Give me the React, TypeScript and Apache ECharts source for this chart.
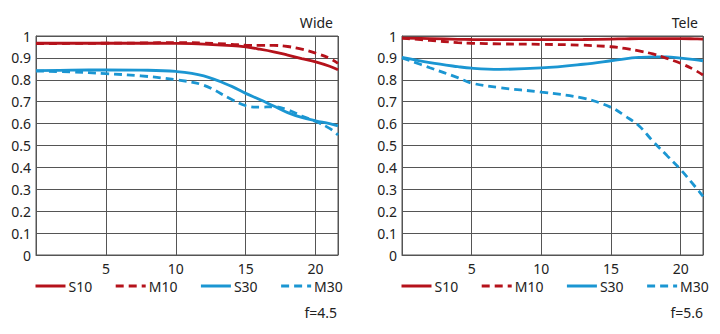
import React, { useEffect, useRef } from "react";
import * as echarts from "echarts";

const wideX = [0, 2.5, 5, 7.5, 10, 12, 14, 15, 16, 17, 18, 19, 20, 21, 21.6];
const wideS10 = [0.967, 0.967, 0.967, 0.967, 0.966, 0.963, 0.956, 0.95, 0.94, 0.928, 0.913, 0.897, 0.882, 0.862, 0.846];
const wideM10 = [0.965, 0.966, 0.967, 0.968, 0.97, 0.968, 0.962, 0.958, 0.957, 0.957, 0.952, 0.94, 0.922, 0.898, 0.875];
const wideS30 = [0.842, 0.844, 0.845, 0.844, 0.838, 0.818, 0.77, 0.738, 0.71, 0.68, 0.65, 0.628, 0.613, 0.6, 0.59];
const wideM30 = [0.84, 0.836, 0.828, 0.818, 0.8, 0.775, 0.71, 0.682, 0.675, 0.677, 0.663, 0.635, 0.61, 0.578, 0.548];

const teleX = [0, 2, 4, 5, 7, 10, 13, 15, 16, 17, 18, 19, 20, 21, 21.6];
const teleS10 = [0.99, 0.988, 0.985, 0.984, 0.983, 0.983, 0.984, 0.986, 0.987, 0.988, 0.988, 0.988, 0.988, 0.987, 0.986];
const teleM10 = [0.99, 0.98, 0.97, 0.967, 0.964, 0.962, 0.958, 0.951, 0.943, 0.932, 0.918, 0.898, 0.875, 0.845, 0.822];
const teleS30 = [0.902, 0.878, 0.86, 0.853, 0.848, 0.854, 0.871, 0.887, 0.896, 0.902, 0.905, 0.905, 0.899, 0.892, 0.887];
const teleM30 = [0.9, 0.855, 0.81, 0.785, 0.764, 0.744, 0.716, 0.674, 0.635, 0.59, 0.52, 0.455, 0.39, 0.315, 0.268];

const seriesNames = ["S10", "M10", "S30", "M30"];
const panelTitles = ["Wide", "Tele"];
const apertures = ["f=4.5", "f=5.6"];
const xTickMax = 21.6;

const RED = "#b5121b";
const BLUE = "#1b96d2";
const GRID = "#555555";
const FONT = "Noto Sans";

export default function App() {
  const ref = useRef<HTMLDivElement>(null);
  useEffect(() => {
    document.body.style.margin = "0";
    const chart = echarts.init(ref.current!, null, { renderer: "svg" });
    const grids = [
      { left: 36, top: 36, width: 302, height: 219 },
      { left: 402, top: 36, width: 301, height: 219 },
    ];
    const mk = (xs: number[], ys: number[]) => xs.map((x, i) => [x, ys[i]]);
    const panels = [
      [wideS10, wideM10, wideS30, wideM30],
      [teleS10, teleM10, teleS30, teleM30],
    ];
    const xsets = [wideX, teleX];
    const styles = [
      { color: RED, type: "solid" },
      { color: RED, type: [8, 5] },
      { color: BLUE, type: "solid" },
      { color: BLUE, type: [8, 5] },
    ];
    const series: any[] = [];
    panels.forEach((p, gi) => {
      p.forEach((ys, si) => {
        series.push({
          type: "line",
          name: seriesNames[si],
          xAxisIndex: gi,
          yAxisIndex: gi,
          data: mk(xsets[gi], ys),
          smooth: 0.4,
          symbol: "none",
          color: styles[si].color,
          lineStyle: { width: 2.8, color: styles[si].color, type: styles[si].type },
          z: 3 - si + 10,
        });
      });
    });
    const option: any = {
      animation: false,
      grid: grids.map((g) => ({ ...g, show: true, borderColor: GRID, borderWidth: 1, containLabel: false })),
      xAxis: grids.map((_, i) => ({
        type: "value",
        gridIndex: i,
        min: 0,
        max: xTickMax,
        interval: 5,
        axisLine: { show: true, lineStyle: { color: GRID, width: 1 } },
        axisTick: { show: false },
        splitLine: { show: true, lineStyle: { color: GRID, width: 1 } },
        axisLabel: {
          margin: 6,
          color: "#222",
          fontFamily: FONT,
          fontSize: 14,
          showMaxLabel: false,
          formatter: (v: number) => (v === 0 ? "" : String(v)),
        },
      })),
      yAxis: grids.map((_, i) => ({
        type: "value",
        gridIndex: i,
        min: 0,
        max: 1,
        interval: 0.1,
        axisLine: { show: true, lineStyle: { color: GRID, width: 1 } },
        axisTick: { show: false },
        splitLine: { show: true, lineStyle: { color: GRID, width: 1 } },
        axisLabel: {
          margin: 5,
          color: "#222",
          fontFamily: FONT,
          fontSize: 14,
          formatter: (v: number) => String(Math.round(v * 10) / 10),
        },
      })),
      legend: [34, 400].map((left) => ({
        left,
        top: 279,
        itemWidth: 30,
        itemHeight: 14,
        itemGap: 22,
        padding: 0,
        data: seriesNames,
        itemStyle: { opacity: 0 },
        lineStyle: { width: 3 },
        textStyle: { color: "#222", fontFamily: FONT, fontSize: 14, padding: [0, 0, 0, -2] },
      })),
      graphic: [
        ...panelTitles.map((t, i) => ({
          type: "text",
          x: [333, 698][i],
          y: 22,
          style: { text: t, align: "right", verticalAlign: "middle", fill: "#222", font: `14px "${FONT}"` },
        })),
        ...apertures.map((t, i) => ({
          type: "text",
          x: [337, 703][i],
          y: 312,
          style: { text: t, align: "right", verticalAlign: "middle", fill: "#222", font: `14px "${FONT}"` },
        })),
      ],
      series,
    };
    chart.setOption(option);
    return () => chart.dispose();
  }, []);
  return <div ref={ref} style={{ width: 720, height: 334, position: "absolute", left: 0, top: 0, background: "#fff" }} />;
}
